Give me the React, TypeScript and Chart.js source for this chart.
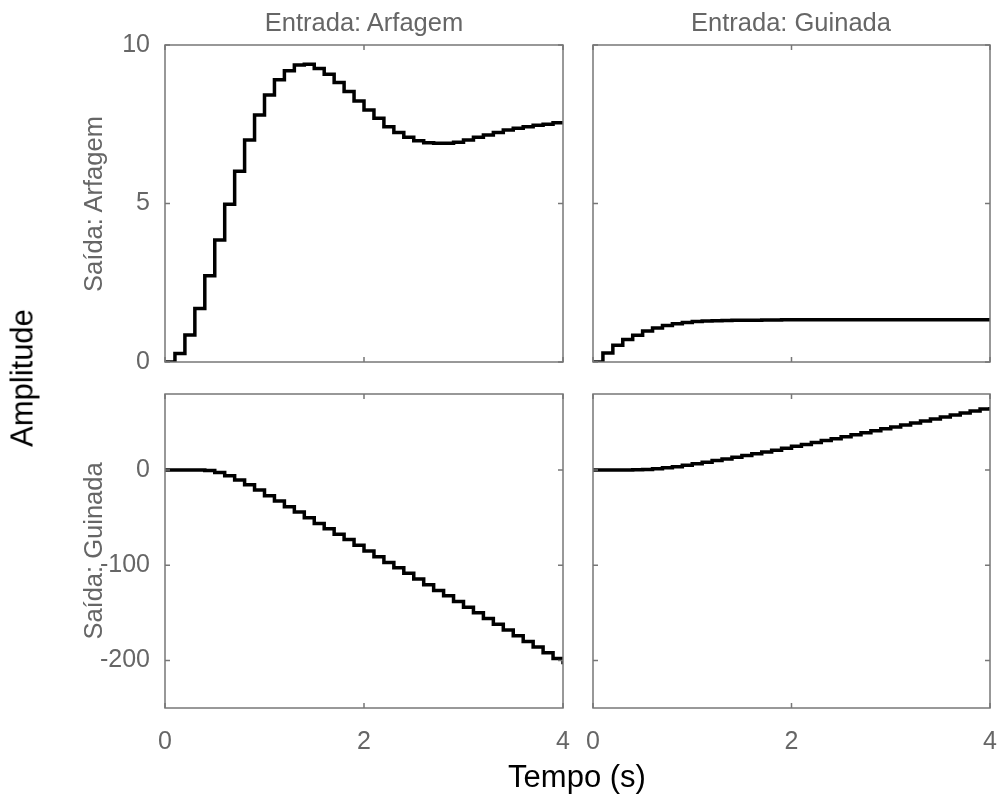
import React, { useEffect, useRef } from "react";
import { Chart, registerables } from "chart.js";

Chart.register(...registerables);

// ---------- data ----------
const times = [
  0, 0.1, 0.2, 0.3, 0.4, 0.5, 0.6, 0.7, 0.8, 0.9,
  1.0, 1.1, 1.2, 1.3, 1.4, 1.5, 1.6, 1.7, 1.8, 1.9,
  2.0, 2.1, 2.2, 2.3, 2.4, 2.5, 2.6, 2.7, 2.8, 2.9,
  3.0, 3.1, 3.2, 3.3, 3.4, 3.5, 3.6, 3.7, 3.8, 3.9, 4.0,
];

// Entrada: Arfagem -> Saída: Arfagem
const pitchFromPitch = [
  0, 0.27, 0.85, 1.69, 2.72, 3.85, 4.98, 6.02, 7.0, 7.79,
  8.42, 8.9, 9.19, 9.37, 9.39, 9.26, 9.08, 8.82, 8.53, 8.23,
  7.95, 7.69, 7.42, 7.24, 7.09, 6.98, 6.92, 6.9, 6.9, 6.93,
  7.0, 7.09, 7.16, 7.24, 7.32, 7.37, 7.42, 7.47, 7.5, 7.55, 7.55,
];

// Entrada: Guinada -> Saída: Arfagem
const pitchFromYaw = [
  0, 0.28, 0.53, 0.71, 0.84, 0.98, 1.07, 1.15, 1.21, 1.25,
  1.28, 1.29, 1.3, 1.31, 1.315, 1.32, 1.32, 1.325, 1.325, 1.33,
  1.33, 1.33, 1.33, 1.33, 1.33, 1.33, 1.33, 1.33, 1.33, 1.33,
  1.33, 1.33, 1.33, 1.33, 1.33, 1.33, 1.33, 1.33, 1.33, 1.33, 1.33,
];

// Entrada: Arfagem -> Saída: Guinada
const yawFromPitch = [
  0, 0, 0, 0, -0.5, -2.5, -6, -10.5, -15.5, -21,
  -27, -32.5, -38.5, -44, -50, -56, -61.5, -67.5, -73, -79,
  -85, -91, -97, -102.5, -108.5, -114.5, -120.5, -126.5, -132, -138,
  -144, -150, -156, -162, -168, -174, -180, -186, -192, -198, -204,
];

// Entrada: Guinada -> Saída: Guinada
const yawFromYaw = [
  0, 0, 0, 0.1, 0.3, 0.7, 1.4, 2.4, 3.6, 5.0,
  6.6, 8.3, 10.0, 11.7, 13.5, 15.3, 17.2, 19.1, 21.0, 23.0,
  25.0, 27.0, 29.0, 31.0, 33.1, 35.2, 37.2, 39.3, 41.3, 43.4,
  45.4, 47.5, 49.6, 51.7, 53.8, 55.8, 57.9, 60.0, 62.1, 64.2, 66.3,
];

const xTicks = [0, 2, 4];
const topYTicks = [0, 5, 10];
const bottomYTicks = [-200, -100, 0];
const xRange = [0, 4];
const topYRange = [0, 10];
const bottomYRange = [-250, 80];

const columnTitles = ["Entrada: Arfagem", "Entrada: Guinada"];
const rowTitles = ["Saída: Arfagem", "Saída: Guinada"];
const yAxisTitle = "Amplitude";
const xAxisTitle = "Tempo (s)";

// ---------- layout ----------
const W = 1005;
const H = 804;
const YW = 70; // reserved width for y tick labels
const XH = 50; // reserved height for x tick labels
const FONT = "'Liberation Sans', Arial, Helvetica, sans-serif";
const TICK_COLOR = "#666666";
const BOX_COLOR = "#777777";

type Panel = {
  values: number[];
  left: number;
  top: number;
  right: number;
  bottom: number;
  yRange: number[];
  yTicks: number[];
  showX: boolean;
  showY: boolean;
};

const panels: Panel[] = [
  { values: pitchFromPitch, left: 165, top: 45, right: 563, bottom: 362, yRange: topYRange, yTicks: topYTicks, showX: false, showY: true },
  { values: pitchFromYaw, left: 593, top: 45, right: 990, bottom: 362, yRange: topYRange, yTicks: topYTicks, showX: false, showY: false },
  { values: yawFromPitch, left: 165, top: 394, right: 563, bottom: 708, yRange: bottomYRange, yTicks: bottomYTicks, showX: true, showY: true },
  { values: yawFromYaw, left: 593, top: 394, right: 990, bottom: 708, yRange: bottomYRange, yTicks: bottomYTicks, showX: true, showY: false },
];

const boxPlugin = {
  id: "matlabBox",
  afterDatasetsDraw(chart: any, _args: any, opts: any) {
    const { ctx, chartArea } = chart;
    const xs = chart.scales.x;
    const ys = chart.scales.y;
    const { left, top, right, bottom } = chartArea;
    ctx.save();
    ctx.strokeStyle = BOX_COLOR;
    ctx.lineWidth = 1.5;
    ctx.strokeRect(left, top, right - left, bottom - top);
    const len = 5;
    ctx.beginPath();
    for (const v of opts.xTicks as number[]) {
      const px = xs.getPixelForValue(v);
      ctx.moveTo(px, bottom);
      ctx.lineTo(px, bottom - len);
      ctx.moveTo(px, top);
      ctx.lineTo(px, top + len);
    }
    for (const v of opts.yTicks as number[]) {
      const py = ys.getPixelForValue(v);
      ctx.moveTo(left, py);
      ctx.lineTo(left + len, py);
      ctx.moveTo(right, py);
      ctx.lineTo(right - len, py);
    }
    ctx.stroke();
    ctx.restore();
  },
};

function PanelChart({ panel }: { panel: Panel }) {
  const ref = useRef<HTMLCanvasElement | null>(null);
  useEffect(() => {
    if (!ref.current) return;
    const points = times.map((t, i) => ({ x: t, y: panel.values[i] }));
    const chart = new Chart(ref.current, {
      type: "line",
      data: {
        datasets: [
          {
            data: points,
            borderColor: "#000000",
            borderWidth: 3.5,
            pointRadius: 0,
            stepped: "before",
            fill: false,
            tension: 0,
          },
        ],
      },
      options: {
        animation: false,
        responsive: false,
        maintainAspectRatio: false,
        events: [],
        layout: {
          autoPadding: false,
          padding: {
            left: panel.left - YW,
            top: panel.top,
            right: W - panel.right,
            bottom: H - panel.bottom - XH,
          },
        },
        plugins: {
          legend: { display: false },
          tooltip: { enabled: false },
          title: { display: false },
          matlabBox: { xTicks, yTicks: panel.yTicks },
        } as any,
        scales: {
          x: {
            type: "linear",
            position: "bottom",
            min: xRange[0],
            max: xRange[1],
            afterBuildTicks: (s: any) => {
              s.ticks = xTicks.map((v) => ({ value: v }));
            },
            afterFit: (s: any) => {
              s.height = XH;
              s.paddingLeft = 0;
              s.paddingRight = 0;
            },
            grid: { display: false, drawTicks: false },
            border: { display: false },
            ticks: {
              display: panel.showX,
              autoSkip: false,
              maxRotation: 0,
              padding: 19,
              color: TICK_COLOR,
              font: { family: FONT, size: 25 },
            },
          },
          y: {
            type: "linear",
            position: "left",
            min: panel.yRange[0],
            max: panel.yRange[1],
            afterBuildTicks: (s: any) => {
              s.ticks = panel.yTicks.map((v) => ({ value: v }));
            },
            afterFit: (s: any) => {
              s.width = YW;
              s.paddingTop = 0;
              s.paddingBottom = 0;
            },
            grid: { display: false, drawTicks: false },
            border: { display: false },
            ticks: {
              display: panel.showY,
              autoSkip: false,
              padding: 15,
              color: TICK_COLOR,
              font: { family: FONT, size: 25 },
            },
          },
        },
      } as any,
      plugins: [boxPlugin],
    });
    return () => chart.destroy();
  }, [panel]);
  return (
    <canvas
      ref={ref}
      width={W}
      height={H}
      style={{ position: "absolute", left: 0, top: 0, width: W, height: H }}
    />
  );
}

const textBase: React.CSSProperties = {
  position: "absolute",
  whiteSpace: "nowrap",
  lineHeight: 1,
  fontFamily: FONT,
};

function Label({ text, x, y, size, color, rotate }: { text: string; x: number; y: number; size: number; color: string; rotate?: boolean }) {
  return (
    <div
      style={{
        ...textBase,
        left: x,
        top: y,
        fontSize: size,
        color,
        transform: `translate(-50%, -50%)${rotate ? " rotate(-90deg)" : ""}`,
      }}
    >
      {text}
    </div>
  );
}

export default function App() {
  return (
    <div style={{ position: "absolute", left: 0, top: 0, width: W, height: H, background: "#ffffff", overflow: "hidden" }}>
      {panels.map((p, i) => (
        <PanelChart key={i} panel={p} />
      ))}
      <Label text={columnTitles[0]} x={364} y={23} size={25.5} color="#666666" />
      <Label text={columnTitles[1]} x={791} y={23} size={25.5} color="#666666" />
      <Label text={rowTitles[0]} x={94} y={204} size={25.5} color="#666666" rotate />
      <Label text={rowTitles[1]} x={94} y={551} size={25.5} color="#666666" rotate />
      <Label text={yAxisTitle} x={22} y={378} size={31} color="#000000" rotate />
      <Label text={xAxisTitle} x={577} y={776} size={31} color="#000000" />
    </div>
  );
}
